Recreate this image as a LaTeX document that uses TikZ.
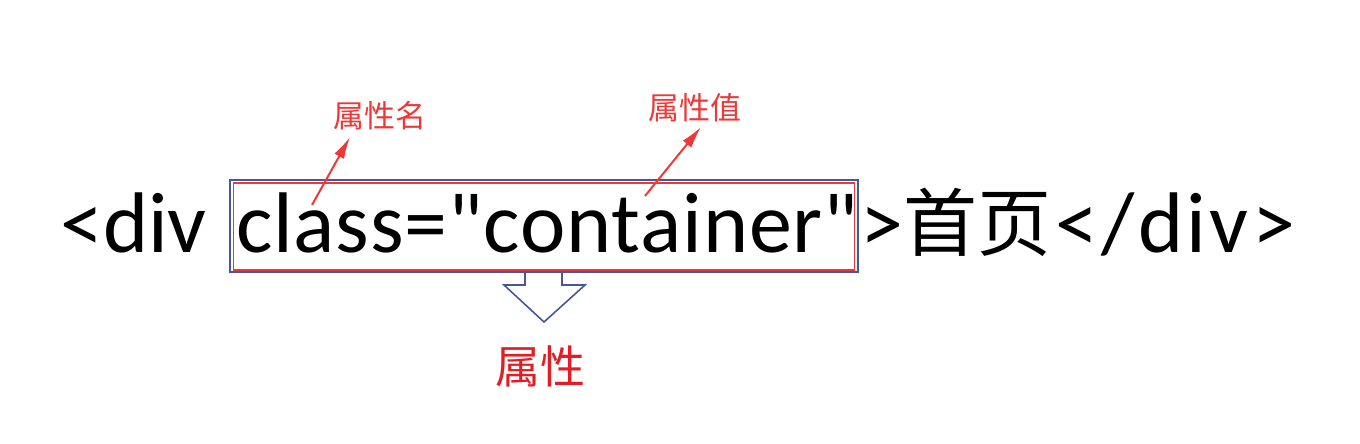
\documentclass[tikz,border=0pt]{standalone}
\usepackage{fontspec}
\setmainfont{Carlito}[Ligatures=TeXOff]
\newfontfamily\widecode{Carlito}[Ligatures=TeXOff,LetterSpace=4]
\newfontfamily\midcode{Carlito}[Ligatures=TeXOff,LetterSpace=1]
\newfontfamily\cjk{Noto Sans CJK SC}
\usetikzlibrary{arrows.meta}
\definecolor{annred}{RGB}{238,56,56}
\definecolor{deepred}{RGB}{226,30,36}
\definecolor{boxblue}{RGB}{72,88,150}
\begin{document}
\begin{tikzpicture}[x=1pt,y=-1pt,
  code/.style={font=\fontsize{86}{90}\selectfont, inner sep=0pt, anchor=base west},
  cjkcode/.style={font=\cjk\fontsize{74}{80}\selectfont, inner sep=0pt, anchor=base west},
  annlabel/.style={font=\cjk\fontsize{31}{34}\selectfont, text=annred, inner sep=0pt},
  pointer/.style={annred, line width=2pt, -{Latex[length=22pt,width=11pt]}},
  frame/.style={draw, inner sep=0pt, fill=none}
]
\useasboundingbox (0,0) rectangle (1360,444);
% boxes
\node[frame, draw=boxblue, line width=2pt, minimum width=628pt, minimum height=92pt] (bluebox) at (544,226) {};
\node[frame, draw=annred, line width=1.6pt, minimum width=621pt, minimum height=87pt] (redbox) at (544,226.5) {};
% text
\node[code] (open) at (60,252) {<div};
\node[code, font=\midcode\fontsize{86}{90}\selectfont] (attr) at (236,252) {class="container"};
\node[code] (gt) at (860,252) {>};
\node[cjkcode] (home) at (903,250) {首页};
\node[code, font=\widecode\fontsize{86}{90}\selectfont] (close) at (1055,252) {</div>};
% block arrow
\draw[boxblue, line width=1.6pt, line join=miter]
  (525,272) -- (525,285) -- (504,285) -- (544,322) -- (585,285) -- (562,285) -- (562,272);
\node[font=\cjk\fontsize{45}{48}\selectfont, text=deepred, inner sep=0pt] (attrlbl) at (540,366) {属性};
% annotations
\node[annlabel] (namelbl) at (380,116) {属性名};
\node[annlabel] (vallbl) at (695,108) {属性值};
\coordinate (nameTail) at (312,205);
\coordinate (nameTip) at (350,137);
\coordinate (valTail) at (645,196);
\coordinate (valTip) at (701,127);
\draw[pointer] (nameTail) -- (nameTip);
\draw[pointer] (valTail) -- (valTip);
\end{tikzpicture}
\end{document}
